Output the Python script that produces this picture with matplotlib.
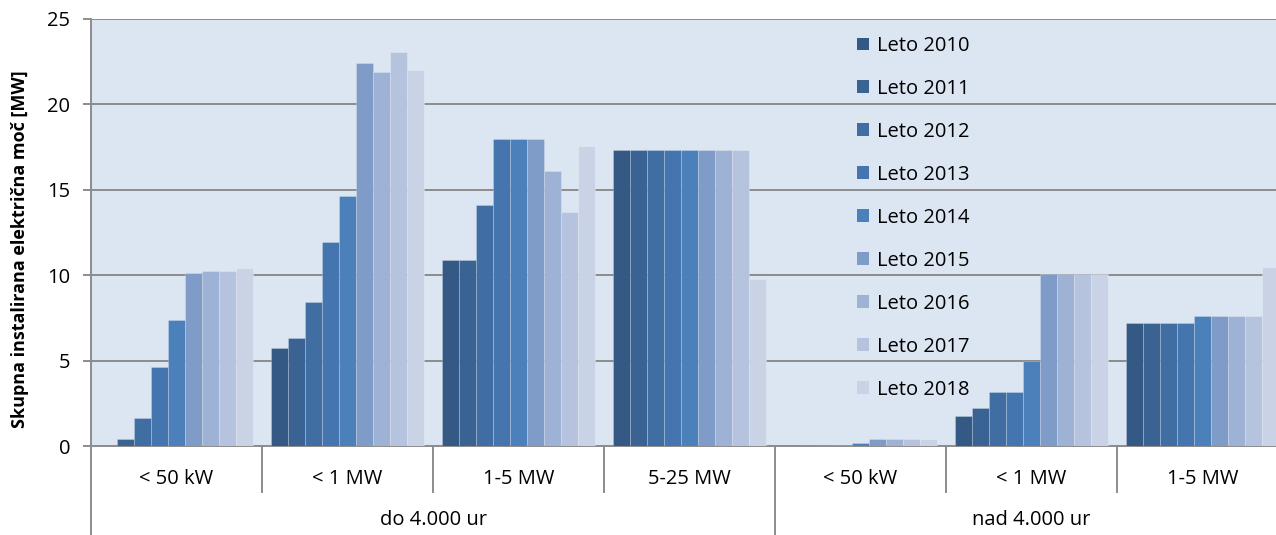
import numpy as np
import matplotlib
matplotlib.use('Agg')
import matplotlib.pyplot as plt
from matplotlib.patches import Patch
import matplotlib.transforms as mtransforms

plt.rcParams['font.family'] = ['Open Sans', 'DejaVu Sans']

groups = ['< 50 kW', '< 1 MW', '1-5 MW', '5-25 MW', '< 50 kW', '< 1 MW', '1-5 MW']
outer = ['do 4.000 ur', 'nad 4.000 ur']
outer_span = [(0, 3), (4, 6)]
years = ['Leto 2010', 'Leto 2011', 'Leto 2012', 'Leto 2013', 'Leto 2014',
         'Leto 2015', 'Leto 2016', 'Leto 2017', 'Leto 2018']

# installed power per year, one list per group
g_lt50_do = [0.0, 0.4, 1.64, 4.64, 7.4, 10.1, 10.25, 10.25, 10.45]
g_lt1_do = [5.72, 6.34, 8.41, 11.96, 14.65, 22.44, 21.91, 23.05, 22.01]
g_1_5_do = [10.91, 10.91, 14.13, 17.97, 17.97, 17.97, 16.1, 13.72, 17.56]
g_5_25_do = [17.33, 17.33, 17.33, 17.33, 17.33, 17.33, 17.33, 17.33, 9.78]
g_lt50_nad = [0.0, 0.05, 0.05, 0.05, 0.15, 0.4, 0.4, 0.4, 0.4]
g_lt1_nad = [1.77, 2.2, 3.14, 3.14, 4.99, 10.07, 10.07, 10.07, 10.07]
g_1_5_nad = [7.2, 7.2, 7.2, 7.2, 7.59, 7.59, 7.59, 7.59, 10.5]

data = np.array([g_lt50_do, g_lt1_do, g_1_5_do, g_5_25_do,
                 g_lt50_nad, g_lt1_nad, g_1_5_nad])

colors = ['#345985', '#3A6394', '#406DA2', '#4575AE', '#4C80BB',
          '#7F9CC8', '#9EB2D5', '#B5C3DF', '#C9D3E5']

FS = 14.5
W, H = 1276, 535
fig = plt.figure(figsize=(W / 100, H / 100), dpi=100)
# plot area runs a little past the right edge
left, right, top, bottom = 91, 1288, 19, 446
ax = fig.add_axes([left / W, 1 - bottom / H, (right - left) / W, (bottom - top) / H])
ax.set_facecolor('#DCE6F2')

x = np.arange(len(groups))
bw = 0.1
for i, yr in enumerate(years):
    ax.bar(x + (i - 4) * bw, data[:, i], width=bw, color=colors[i],
           edgecolor=(1, 1, 1, 0.25), linewidth=0.6, label=yr, zorder=3)

ax.set_xlim(-0.5, len(groups) - 0.5)
ax.set_ylim(0, 25)
ax.set_yticks([0, 5, 10, 15, 20, 25])
ax.yaxis.grid(True, color='#8C8C8C', linewidth=1.4, zorder=1)
ax.set_axisbelow(True)
for s in ['top', 'right']:
    ax.spines[s].set_visible(False)
ax.spines['left'].set_color('#8C8C8C')
ax.spines['bottom'].set_color('#8C8C8C')
ax.spines['left'].set_linewidth(1.4)
ax.spines['bottom'].set_linewidth(1.4)
ax.tick_params(axis='y', length=6, width=1.4, color='#8C8C8C', labelsize=FS, pad=9)
ax.set_xticks([])
ax.set_ylabel('Skupna instalirana električna moč [MW]', fontsize=13,
              fontweight='bold')
ax.yaxis.set_label_coords(-0.052, 0.461)

# two-level category axis below the plot
trans = mtransforms.blended_transform_factory(ax.transData, ax.transAxes)
px = 1.0 / (bottom - top)
for k, g in enumerate(groups):
    ax.text(k, -33 * px, g, transform=trans, ha='center', va='center',
            fontsize=FS, clip_on=False)
for k in range(1, len(groups)):
    if k == 4:
        continue
    ax.plot([k - 0.5, k - 0.5], [0, -46 * px], transform=trans, color='#8C8C8C',
            lw=1.4, clip_on=False)
for xs in [-0.5, 3.5]:
    ax.plot([xs, xs], [0, -95 * px], transform=trans, color='#8C8C8C',
            lw=1.4, clip_on=False)
for lab, (a, b) in zip(outer, outer_span):
    ax.text((a + b) / 2, -74 * px, lab, transform=trans, ha='center', va='center',
            fontsize=FS, clip_on=False)

handles = [Patch(facecolor=c, edgecolor='none') for c in colors]
ax.legend(handles, years, loc='upper left', bbox_to_anchor=(857 / W, 1 - 36 / H),
          bbox_transform=fig.transFigure, frameon=False, fontsize=FS,
          handlelength=0.6, handleheight=0.6, handletextpad=0.4,
          labelspacing=1.14, borderaxespad=0, borderpad=0)

fig.savefig('out.png', dpi=100)
